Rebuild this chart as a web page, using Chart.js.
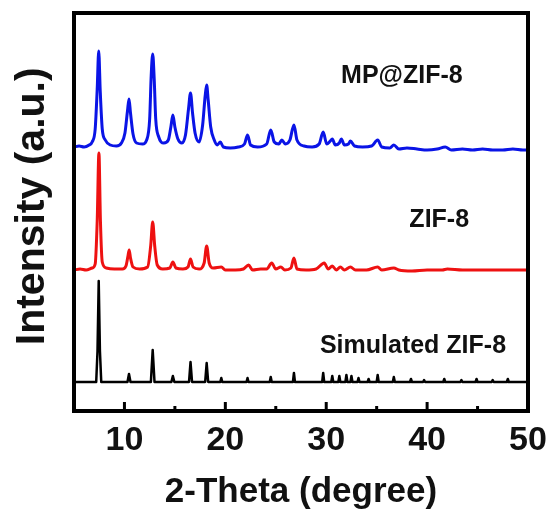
<!DOCTYPE html>
<html>
<head>
<meta charset="utf-8">
<script src="https://cdn.jsdelivr.net/npm/chart.js@4.4.1/dist/chart.umd.min.js"></script>
<style>
  html, body { margin: 0; padding: 0; background: #ffffff; }
  #wrap { width: 551px; height: 518px; }
</style>
</head>
<body>
<div id="wrap"><canvas id="xrd" width="551" height="518"></canvas></div>
<script>
// Datos (2-theta, intensidad apilada a.u.)
const xTicks = [10, 20, 30, 40, 50];
const xMinorTicks = [15, 25, 35, 45];

const mpZif8 = [
    [5.0,264],[5.5,265],[6.0,264],[6.5,266],[6.8,269],[7.1,282],[7.3,322],[7.45,360],[7.6,320],[7.8,282],
    [8.1,271],[8.6,266],[9.2,265],[9.7,268],[10.05,278],[10.3,300],[10.45,312],[10.6,298],[10.85,277],[11.2,268],
    [11.8,267],[12.2,271],[12.5,292],[12.65,335],[12.8,357],[12.95,332],[13.1,292],[13.4,274],[13.9,268],[14.35,271],
    [14.6,284],[14.8,296],[15.0,284],[15.3,272],[15.7,268],[16.05,276],[16.35,302],[16.55,318],[16.75,298],[17.0,278],
    [17.4,269],[17.75,286],[18.0,315],[18.15,326],[18.3,311],[18.55,284],[18.9,271],[19.2,266],[19.5,269],[19.8,264],
    [20.5,263],[21.3,264],[21.9,267],[22.2,276],[22.5,266],[23.2,264],[24.1,267],[24.5,281],[24.85,269],[25.3,267],
    [25.6,271],[25.95,267],[26.4,271],[26.8,286],[27.1,271],[27.8,265],[28.6,264],[29.3,267],[29.7,279],[30.05,267],
    [30.4,270],[30.6,272],[30.9,266],[31.3,268],[31.5,272],[31.8,266],[32.2,267],[32.4,270],[32.8,265],[33.6,264],
    [34.5,265],[35.1,271],[35.5,264],[36.3,263],[36.7,266],[37.2,262],[38.0,263],[39.0,262],[40.0,261],[41.0,262],
    [41.8,264],[42.4,261],[43.5,262],[44.5,261],[45.5,262],[46.5,261],[47.5,261],[48.5,262],[49.5,261],[50.0,261]
];

const zif8 = [
    [5.0,141],[5.6,142],[6.2,141],[6.8,143],[7.1,147],[7.3,190],[7.47,258],[7.62,190],[7.8,149],[8.2,143],
    [9.0,142],[9.8,142],[10.15,145],[10.35,155],[10.47,161],[10.6,153],[10.85,144],[11.5,142],[12.3,144],[12.6,165],
    [12.8,189],[13.0,165],[13.25,146],[13.8,142],[14.5,143],[14.8,149],[15.1,143],[15.8,142],[16.3,144],[16.55,152],
    [16.8,144],[17.4,142],[17.9,148],[18.15,165],[18.4,148],[18.8,143],[19.6,144],[20.0,141],[21.0,141],[21.8,142],
    [22.3,146],[22.7,141],[23.5,142],[24.1,142],[24.6,148],[25.0,142],[25.5,144],[25.9,141],[26.5,143],[26.8,153],
    [27.1,142],[28.0,141],[29.0,142],[29.8,148],[30.2,142],[30.6,145],[31.0,141],[31.4,144],[31.8,141],[32.4,144],
    [32.9,141],[34.0,141],[35.1,144],[35.5,141],[36.7,143],[37.2,141],[38.5,140],[40.0,141],[41.5,141],[42.0,142],
    [43.5,141],[45.0,141],[46.5,141],[48.0,141],[50.0,141]
];

const simulatedZif8 = [
    [5.0,29],[7.2,29],[7.33,60],[7.45,130],[7.57,60],[7.7,29],
    [10.3,29],[10.45,37],[10.6,29],[12.62,29],[12.8,61],[12.98,29],[14.65,29],[14.8,35],[14.95,29],
    [16.4,29],[16.55,49],[16.7,29],[18.0,29],[18.15,48],[18.3,29],[19.5,29],[19.6,33],[19.7,29],
    [22.1,29],[22.2,33],[22.3,29],[24.4,29],[24.5,34],[24.6,29],[26.7,29],[26.8,38],[26.9,29],
    [29.6,29],[29.7,38],[29.8,29],[30.5,29],[30.6,35],[30.7,29],[31.2,29],[31.3,35],[31.4,29],
    [31.9,29],[32.0,36],[32.1,29],[32.4,29],[32.5,35],[32.6,29],[33.1,29],[33.2,33],[33.3,29],
    [34.1,29],[34.2,32],[34.3,29],[35.0,29],[35.1,36],[35.2,29],[36.6,29],[36.7,34],[36.8,29],
    [38.3,29],[38.4,32],[38.5,29],[39.6,29],[39.7,31],[39.8,29],[41.6,29],[41.7,32],[41.8,29],
    [43.3,29],[43.4,31],[43.5,29],[44.8,29],[44.9,32],[45.0,29],[46.4,29],[46.5,31],[46.6,29],
    [47.9,29],[48.0,32],[48.1,29],[50.0,29]
];

// Etiquetas de cada curva: texto, posicion en coordenadas de datos
const curveLabels = [
    { text: 'MP@ZIF-8', x: 37.5, y: 328 },
    { text: 'ZIF-8', x: 41.2, y: 184 },
    { text: 'Simulated ZIF-8', x: 38.6, y: 58 }
];

const FONT = '"Liberation Sans", Arial, Helvetica, sans-serif';

// Marco, ticks interiores y etiquetas
const framePlugin = {
    id: 'frame',
    afterDatasetsDraw(chart) {
        const ctx = chart.ctx;
        const area = chart.chartArea;
        const xs = chart.scales.x;
        const ys = chart.scales.y;
        ctx.save();
        ctx.strokeStyle = '#000';
        ctx.lineWidth = 3;
        xTicks.forEach(v => {
            const px = xs.getPixelForValue(v);
            ctx.beginPath();
            ctx.moveTo(px, area.bottom);
            ctx.lineTo(px, area.bottom - 9);
            ctx.stroke();
        });
        xMinorTicks.forEach(v => {
            const px = xs.getPixelForValue(v);
            ctx.beginPath();
            ctx.moveTo(px, area.bottom);
            ctx.lineTo(px, area.bottom - 5);
            ctx.stroke();
        });
        ctx.lineWidth = 4;
        ctx.strokeRect(area.left, area.top, area.right - area.left, area.bottom - area.top);

        ctx.fillStyle = '#111';
        ctx.font = 'bold 25px ' + FONT;
        ctx.textAlign = 'center';
        ctx.textBaseline = 'alphabetic';
        curveLabels.forEach(l => {
            ctx.fillText(l.text, xs.getPixelForValue(l.x), ys.getPixelForValue(l.y));
        });
        ctx.restore();
    }
};

const chart = new Chart(document.getElementById('xrd'), {
    type: 'line',
    data: {
        datasets: [
            {
                label: 'MP@ZIF-8',
                data: mpZif8,
                borderColor: '#0a14e6',
                borderWidth: 3,
                borderJoinStyle: 'round',
                pointRadius: 0,
                cubicInterpolationMode: 'monotone'
            },
            {
                label: 'ZIF-8',
                data: zif8,
                borderColor: '#ee1111',
                borderWidth: 3,
                borderJoinStyle: 'round',
                pointRadius: 0,
                cubicInterpolationMode: 'monotone'
            },
            {
                label: 'Simulated ZIF-8',
                data: simulatedZif8,
                borderColor: '#000000',
                borderWidth: 2.5,
                borderJoinStyle: 'round',
                pointRadius: 0,
                tension: 0
            }
        ]
    },
    options: {
        responsive: false,
        animation: false,
        devicePixelRatio: 1,
        layout: {
            padding: { left: 0, right: 23, top: 13, bottom: 0 }
        },
        plugins: {
            legend: { display: false },
            tooltip: { enabled: false }
        },
        scales: {
            x: {
                type: 'linear',
                min: 5,
                max: 50,
                grid: { display: false, drawTicks: false },
                border: { display: false },
                afterBuildTicks: scale => {
                    scale.ticks = xTicks.map(v => ({ value: v }));
                },
                afterFit: scale => {
                    scale.height = 107;
                    scale.paddingLeft = 0;
                    scale.paddingRight = 0;
                },
                ticks: {
                    color: '#111',
                    padding: 9,
                    maxRotation: 0,
                    font: { family: FONT, size: 34, weight: 'bold' }
                },
                title: {
                    display: true,
                    text: '2-Theta (degree)',
                    color: '#111',
                    padding: { top: 0, bottom: 5 },
                    font: { family: FONT, size: 35, weight: 'bold' }
                }
            },
            y: {
                min: 0,
                max: 398,
                grid: { display: false, drawTicks: false },
                border: { display: false },
                ticks: { display: false },
                afterFit: scale => { scale.width = 74; },
                title: {
                    display: true,
                    text: '\u00a0Intensity (a.u.)',
                    color: '#111',
                    padding: { top: 8, bottom: 0 },
                    font: { family: FONT, size: 41, weight: 'bold' }
                }
            }
        }
    },
    plugins: [framePlugin]
});
</script>
</body>
</html>
